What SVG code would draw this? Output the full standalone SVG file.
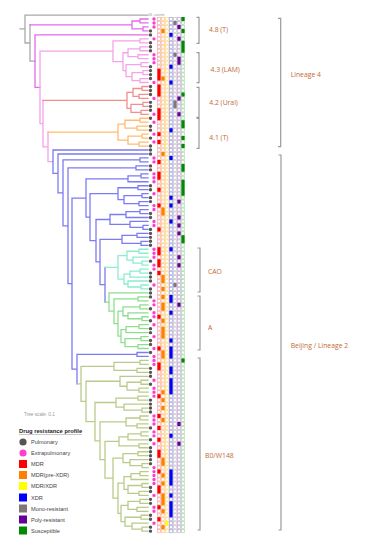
<svg xmlns="http://www.w3.org/2000/svg" width="367" height="550" viewBox="0 0 367 550">
<style>
.t{fill:none;stroke-width:1.3;stroke-linecap:square;vector-effect:non-scaling-stroke}
.dot{fill:none;stroke-width:3.4;stroke-linecap:round;vector-effect:non-scaling-stroke}
.br{fill:none;stroke:#9a9a9a;stroke-width:1.2}
.cl{font-family:"Open Sans","Liberation Sans",sans-serif;font-size:6.8px;fill:#bf6a35}
.lg{font-family:"Liberation Sans",Arial,sans-serif;font-size:5.6px;fill:#444}
</style>
<defs>
<pattern id="gR" patternUnits="userSpaceOnUse" x="1" y="17.015" width="4" height="3.97"><rect x="0.5" y="0.45" width="3" height="3.07" fill="none" stroke="#f6aaaa" stroke-width="0.7"/></pattern>
<pattern id="gO" patternUnits="userSpaceOnUse" x="1" y="17.015" width="4" height="3.97"><rect x="0.5" y="0.45" width="3" height="3.07" fill="none" stroke="#ffc68c" stroke-width="0.7"/></pattern>
<pattern id="gY" patternUnits="userSpaceOnUse" x="1" y="17.015" width="4" height="3.97"><rect x="0.5" y="0.45" width="3" height="3.07" fill="none" stroke="#ffdc80" stroke-width="0.7"/></pattern>
<pattern id="gB" patternUnits="userSpaceOnUse" x="1" y="17.015" width="4" height="3.97"><rect x="0.5" y="0.45" width="3" height="3.07" fill="none" stroke="#a0a0f2" stroke-width="0.7"/></pattern>
<pattern id="gG" patternUnits="userSpaceOnUse" x="1" y="17.015" width="4" height="3.97"><rect x="0.5" y="0.45" width="3" height="3.07" fill="none" stroke="#cbc4c4" stroke-width="0.7"/></pattern>
<pattern id="gP" patternUnits="userSpaceOnUse" x="1" y="17.015" width="4" height="3.97"><rect x="0.5" y="0.45" width="3" height="3.07" fill="none" stroke="#c7a8de" stroke-width="0.7"/></pattern>
<pattern id="gV" patternUnits="userSpaceOnUse" x="1" y="17.015" width="4" height="3.97"><rect x="0.5" y="0.45" width="3" height="3.07" fill="none" stroke="#a8d8a8" stroke-width="0.7"/></pattern>
</defs>
<rect width="367" height="550" fill="#fff"/>
<g id="grid">
<rect x="157" y="17.015" width="4" height="516.1" fill="url(#gR)"/>
<rect x="161" y="17.015" width="4" height="516.1" fill="url(#gO)"/>
<rect x="165" y="17.015" width="4" height="516.1" fill="url(#gY)"/>
<rect x="169" y="17.015" width="4" height="516.1" fill="url(#gB)"/>
<rect x="173" y="17.015" width="4" height="516.1" fill="url(#gG)"/>
<rect x="177" y="17.015" width="4" height="516.1" fill="url(#gP)"/>
<rect x="181" y="17.015" width="4" height="516.1" fill="url(#gV)"/>
</g>
<g id="tree-rows" transform="translate(0 19) scale(1 3.97)">
<g id="connectors">
<path class="t" stroke="#a9a9a9" d="M20 2.5H25M148 -1H25V6.05H30M30 1.5V10.6H35"/>
<path class="t" stroke="#e36be9" d="M30 1.5H132M140 0.5H132V2.5H143M148 0H140V1H148M148 2H143V3H148M148 4H35V17.2H40"/>
<path class="t" stroke="#f3a3e8" d="M113 8.1H40V26.35H43M140 5.5H113V10.75H123M148 5H140V6H148M128 8.5H123V13H126M140 7.5H128V9.5H138M148 7H140V8H148M148 9H138V10H148M141 11.5H126V14.5H132M148 11H141V12H148M143 13.5H132V15.5H140M148 13H143V14H148M148 15H140V16H148M43 20.5V32.2H48M48 28.5V35.95H53"/>
<path class="t" stroke="#f28e8e" d="M43 20.5H127M133 18.5H127V22.5H131M142 17.5H133V19.5H139M148 17H142V18H148M148 19H139V20H148M143 21.5H131V23.5H141M148 21H143V22H148M148 23H141V24H148"/>
<path class="t" stroke="#ffbb70" d="M48 28.5H118M125 26.5H118V30.5H128M140 25.5H125V27.5H137M148 25H140V26H148M148 27H137V28H148M142 29.5H128V31.5H139M148 29H142V30H148M148 31H139V32H148"/>
<path class="t" stroke="#7b7bf3" d="M148 33H53V38.9H58M148 34H58V43.8H63M140 35.5H63V52.1H68M148 35H140V36H148M136 37.5H68V66.65H72M148 37H136V38H148M86 45.1H72V88.2H77M128 40.25H86V49.9H90M141 39.5H128V41H148M148 39H141V40H148M118 44H90V55.85H96M138 42.5H118V45.5H124M148 42H138V43H148M142 44.5H124V46.5H139M148 44H142V45H148M148 46H139V47H148M110 50.5H96V61.2H100M126 49.25H110V51.75H130M140 48.5H126V50H148M148 48H140V49H148M148 51H130V52.5H143M148 52H143V53H148M122 55.5H100V66.9H105M137 54.5H122V56.5H141M148 54H137V55H148M148 56H141V57H148M105 62.55V71.3M137 84.5H77V91.9M148 84H137V85H148"/>
<path class="t" stroke="#8cecd0" d="M105 62.55H118M127 59.6H118V65.5H124M139 58.5H127V60.75H133M148 58H139V59H148M148 60H133V61.5H142M148 61H142V62H148M130 64.25H124V66.75H128M140 63.5H130V65H148M148 63H140V64H148M148 66H128V67.5H141M148 67H141V68H148"/>
<path class="t" stroke="#8ede8e" d="M105 71.3H109M148 69H109V73.6H114M138 70.5H114V76.75H118M148 70H138V71H148M123 73.6H118V79.9H121M140 72.5H123V74.75H128M148 72H140V73H148M148 74H128V75.5H142M148 75H142V76H148M126 78.25H121V81.5H125M139 77.5H126V79H148M148 77H139V78H148M141 80.5H125V82.5H138M148 80H141V81H148M148 82H138V83H148"/>
<path class="t" stroke="#b9cb8a" d="M77 91.9H81M114 87.5H81V96.3H86M140 86.5H114V88.5H137M148 86H140V87H148M148 88H137V89H148M120 91.25H86V101.4H95M148 90H120V92.5H127M141 91.5H127V93.5H139M148 91H141V92H148M148 93H139V94H148M116 96.6H95V106.25H100M138 95.5H116V97.75H124M148 95H138V96H148M148 97H124V98.5H142M148 98H142V99H148M126 101.5H100V111H105M140 100.5H126V102.5H137M148 100H140V101H148M148 102H137V103H148M119 106.4H105V115.65H113M128 105.25H119V107.5H139M141 104.5H128V106H148M148 104H141V105H148M148 107H139V108H148M123 110.6H113V120.7H118M138 109.5H123V111.75H130M148 109H138V110H148M148 111H130V112.5H142M148 112H142V113H148M124 116.9H118V124.55H121M131 115.25H124V118.5H128M140 114.5H131V116H148M148 114H140V115H148M142 117.5H128V119.5H139M148 117H142V118H148M148 119H139V120H148M128 122.5H121V126.6H125M140 121.5H128V123.5H137M148 121H140V122H148M148 123H137V124H148M141 125.5H125V127.75H132M148 125H141V126H148M148 127H132V128.5H142M148 128H142V129H148"/>
</g>
<g id="sites">
<path class="dot" stroke="#555" d="M150.5 3v0M150.5 4v0M150.5 6v0M150.5 7v0M150.5 8v0M150.5 12v0M150.5 13v0M150.5 14v0M150.5 15v0M150.5 17v0M150.5 18v0M150.5 19v0M150.5 21v0M150.5 22v0M150.5 23v0M150.5 25v0M150.5 27v0M150.5 28v0M150.5 30v0M150.5 32v0M150.5 33v0M150.5 34v0M150.5 37v0M150.5 38v0M150.5 42v0M150.5 43v0M150.5 45v0M150.5 46v0M150.5 49v0M150.5 50v0M150.5 53v0M150.5 54v0M150.5 55v0M150.5 56v0M150.5 57v0M150.5 61v0M150.5 64v0M150.5 65v0M150.5 66v0M150.5 68v0M150.5 69v0M150.5 70v0M150.5 73v0M150.5 76v0M150.5 78v0M150.5 79v0M150.5 81v0M150.5 82v0M150.5 84v0M150.5 88v0M150.5 89v0M150.5 90v0M150.5 92v0M150.5 96v0M150.5 97v0M150.5 98v0M150.5 99v0M150.5 103v0M150.5 106v0M150.5 108v0M150.5 109v0M150.5 110v0M150.5 111v0M150.5 112v0M150.5 118v0M150.5 119v0M150.5 121v0M150.5 122v0M150.5 125v0M150.5 126v0M150.5 128v0M150.5 129v0"/>
<path class="dot" stroke="#ff3dd0" d="M154 0v0M154 1v0M154 2v0M154 5v0M154 9v0M154 10v0M154 11v0M154 16v0M154 20v0M154 24v0M154 26v0M154 29v0M154 31v0M154 35v0M154 36v0M154 39v0M154 40v0M154 41v0M154 44v0M154 47v0M154 48v0M154 51v0M154 52v0M154 58v0M154 59v0M154 60v0M154 62v0M154 63v0M154 67v0M154 71v0M154 72v0M154 74v0M154 75v0M154 77v0M154 80v0M154 83v0M154 85v0M154 86v0M154 87v0M154 91v0M154 93v0M154 94v0M154 95v0M154 100v0M154 101v0M154 102v0M154 104v0M154 105v0M154 107v0M154 113v0M154 114v0M154 115v0M154 116v0M154 117v0M154 120v0M154 123v0M154 124v0M154 127v0"/>
</g>
<g id="cells">
<path fill="#ff0000" d="M157.4 12.5h3.2v3h-3.2zM157.4 16.5h3.2v3h-3.2zM157.4 22.5h3.2v3h-3.2zM157.4 28.5h3.2v1h-3.2zM157.4 30.5h3.2v1h-3.2zM157.4 35.5h3.2v1h-3.2zM157.4 38.5h3.2v2h-3.2zM157.4 42.5h3.2v1h-3.2zM157.4 46.5h3.2v1h-3.2zM157.4 52.5h3.2v1h-3.2zM157.4 57.5h3.2v2h-3.2zM157.4 60.5h3.2v2h-3.2zM157.4 63.5h3.2v1h-3.2zM157.4 74.5h3.2v1h-3.2zM157.4 82.5h3.2v1h-3.2zM157.4 86.5h3.2v2h-3.2zM157.4 94.5h3.2v1h-3.2zM157.4 99.5h3.2v1h-3.2zM157.4 102.5h3.2v1h-3.2zM157.4 105.5h3.2v1h-3.2zM157.4 108.5h3.2v2h-3.2zM157.4 113.5h3.2v1h-3.2zM157.4 117.5h3.2v2h-3.2zM157.4 122.5h3.2v1h-3.2zM157.4 125.5h3.2v1h-3.2z"/>
<path fill="#ff7f00" d="M161.4 2.5h3.2v1h-3.2zM161.4 14.5h3.2v1h-3.2zM161.4 33.5h3.2v1h-3.2zM161.4 47.5h3.2v2h-3.2zM161.4 64.5h3.2v2h-3.2zM161.4 67.5h3.2v1h-3.2zM161.4 69.5h3.2v1h-3.2zM161.4 71.5h3.2v2h-3.2zM161.4 75.5h3.2v1h-3.2zM161.4 77.5h3.2v3h-3.2zM161.4 83.5h3.2v2h-3.2zM161.4 93.5h3.2v1h-3.2zM161.4 95.5h3.2v1h-3.2zM161.4 97.5h3.2v1h-3.2zM161.4 100.5h3.2v1h-3.2zM161.4 110.5h3.2v2h-3.2zM161.4 114.5h3.2v1h-3.2zM161.4 116.5h3.2v1h-3.2zM161.4 119.5h3.2v3h-3.2zM161.4 123.5h3.2v1h-3.2zM161.4 127.5h3.2v1h-3.2z"/>
<path fill="#ffff00" d="M165.4 126.5h3.2v1h-3.2z"/>
<path fill="#0000ff" d="M169.4 3.5h3.2v1h-3.2zM169.4 11.5h3.2v1h-3.2zM169.4 15.5h3.2v1h-3.2zM169.4 27.5h3.2v1h-3.2zM169.4 34.5h3.2v1h-3.2zM169.4 44.5h3.2v1h-3.2zM169.4 46.5h3.2v1h-3.2zM169.4 50.5h3.2v1h-3.2zM169.4 57.5h3.2v1h-3.2zM169.4 69.5h3.2v2h-3.2zM169.4 73.5h3.2v1h-3.2zM169.4 80.5h3.2v1h-3.2zM169.4 82.5h3.2v3h-3.2zM169.4 87.5h3.2v2h-3.2zM169.4 90.5h3.2v4h-3.2zM169.4 104.5h3.2v1h-3.2zM169.4 113.5h3.2v4h-3.2zM169.4 119.5h3.2v1h-3.2zM169.4 121.5h3.2v4h-3.2z"/>
<path fill="#7f7777" d="M173.4 0.5h3.2v1h-3.2zM173.4 8.5h3.2v1h-3.2zM173.4 20.5h3.2v2h-3.2zM173.4 66.5h3.2v1h-3.2z"/>
<path fill="#66009a" d="M177.4 1.5h3.2v1h-3.2zM177.4 4.5h3.2v1h-3.2zM177.4 9.5h3.2v2h-3.2zM177.4 19.5h3.2v1h-3.2zM177.4 23.5h3.2v1h-3.2zM177.4 45.5h3.2v1h-3.2zM177.4 49.5h3.2v1h-3.2zM177.4 51.5h3.2v1h-3.2zM177.4 53.5h3.2v1h-3.2zM177.4 59.5h3.2v1h-3.2zM177.4 61.5h3.2v1h-3.2zM177.4 71.5h3.2v1h-3.2zM177.4 101.5h3.2v1h-3.2zM177.4 106.5h3.2v1h-3.2z"/>
<path fill="#008a00" d="M181.4 -0.5h3.2v1h-3.2zM181.4 2.5h3.2v1h-3.2zM181.4 5.5h3.2v3h-3.2zM181.4 18.5h3.2v1h-3.2zM181.4 25.5h3.2v2h-3.2zM181.4 29.5h3.2v1h-3.2zM181.4 31.5h3.2v1h-3.2zM181.4 36.5h3.2v2h-3.2zM181.4 40.5h3.2v4h-3.2zM181.4 54.5h3.2v2h-3.2zM181.4 85.5h3.2v1h-3.2z"/>
</g>
</g>
<text x="149" y="16.4" font-family="Liberation Sans, sans-serif" font-size="3.4" fill="#9a9a9a">M. canettii</text>
<g id="clade-4-8"><path class="br" d="M196.5 17.3H199V43.3H196.5"/><text class="cl" x="209" y="32">4.8 (T)</text></g>
<g id="clade-4-3"><path class="br" d="M196.5 52.7H199V82.7H196.5"/><text class="cl" x="210.5" y="71.5">4.3 (LAM)</text></g>
<g id="clade-4-2"><path class="br" d="M196.5 87.3H199V117.3H196.5"/><text class="cl" x="209.3" y="104.8">4.2 (Ural)</text></g>
<g id="clade-4-1"><path class="br" d="M196.5 118.3H199V148.3H196.5"/><text class="cl" x="209.3" y="140">4.1 (T)</text></g>
<g id="lineage-4"><path class="br" d="M278 18.3H280.7V146.7H278"/><text class="cl" x="290.7" y="76.5">Lineage 4</text></g>
<g id="clade-cao"><path class="br" d="M197.5 248H200V292H197.5"/><text class="cl" x="208" y="273.5">CAO</text></g>
<g id="clade-a"><path class="br" d="M197.5 296H200V350H197.5"/><text class="cl" x="208" y="330">A</text></g>
<g id="clade-b0"><path class="br" d="M197.5 358H200V530H197.5"/><text class="cl" x="205" y="458">B0/W148</text></g>
<g id="lineage-2"><path class="br" d="M278.5 155H281V530H278.5"/><text class="cl" x="290.7" y="348">Beijing / Lineage 2</text></g>
<g id="legend">
<text x="24" y="415.5" font-family="Liberation Sans, sans-serif" font-size="4.7" fill="#999">Tree scale: 0.1</text>
<text x="19" y="432.5" font-family="Liberation Sans, sans-serif" font-size="5.8" font-weight="bold" fill="#222">Drug resistance profile</text>
<line x1="19" y1="434.5" x2="82" y2="434.5" stroke="#bbb" stroke-width="0.8"/>
<circle cx="23" cy="442" r="3.6" fill="#555"/><text class="lg" x="31" y="444">Pulmonary</text>
<circle cx="23" cy="453" r="3.6" fill="#ff3dd0"/><text class="lg" x="31" y="455">Extrapulmonary</text>
<rect x="19" y="460" width="8" height="8" fill="#ff0000"/><text class="lg" x="31" y="466">MDR</text>
<rect x="19" y="471" width="8" height="8" fill="#ff7f00"/><text class="lg" x="31" y="477">MDR(pre-XDR)</text>
<rect x="19" y="482" width="8" height="8" fill="#ffff00"/><text class="lg" x="31" y="488">MDR/XDR</text>
<rect x="19" y="493.5" width="8" height="8" fill="#0000ff"/><text class="lg" x="31" y="499.5">XDR</text>
<rect x="19" y="504.5" width="8" height="8" fill="#7f7777"/><text class="lg" x="31" y="510.5">Mono-resistant</text>
<rect x="19" y="515.5" width="8" height="8" fill="#66009a"/><text class="lg" x="31" y="521.5">Poly-resistant</text>
<rect x="19" y="526.5" width="8" height="8" fill="#008a00"/><text class="lg" x="31" y="532.5">Susceptible</text>
</g>
</svg>
